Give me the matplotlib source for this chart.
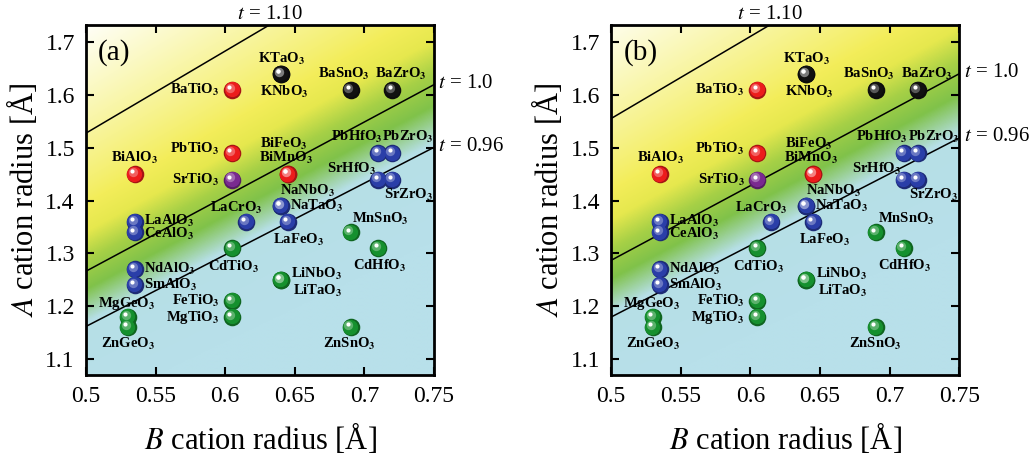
import numpy as np
import matplotlib.pyplot as plt
from matplotlib.colors import LinearSegmentedColormap, to_rgb
from matplotlib.transforms import ScaledTranslation

plt.rcParams['font.family'] = ['Liberation Serif', 'DejaVu Serif']
plt.rcParams['mathtext.fontset'] = 'stix'

# compounds: B-site radius, A-site radius, colour group
names = ['BaTiO3', 'KTaO3', 'KNbO3', 'BaSnO3', 'BaZrO3', 'PbTiO3', 'BiAlO3',
         'SrTiO3', 'BiFeO3', 'BiMnO3', 'PbHfO3', 'PbZrO3', 'SrHfO3', 'SrZrO3',
         'NaNbO3', 'NaTaO3', 'LaFeO3', 'LaCrO3', 'LaAlO3', 'CeAlO3', 'NdAlO3',
         'SmAlO3', 'CdTiO3', 'MnSnO3', 'CdHfO3', 'LiNbO3', 'LiTaO3', 'FeTiO3',
         'MgTiO3', 'MgGeO3', 'ZnGeO3', 'ZnSnO3']
r_B = [0.605, 0.64, 0.64, 0.69, 0.72, 0.605, 0.535,
       0.605, 0.645, 0.645, 0.71, 0.72, 0.71, 0.72,
       0.64, 0.64, 0.645, 0.615, 0.535, 0.535, 0.535,
       0.535, 0.605, 0.69, 0.71, 0.64, 0.64, 0.605,
       0.605, 0.53, 0.53, 0.69]
r_A = [1.61, 1.64, 1.64, 1.61, 1.61, 1.49, 1.45,
       1.44, 1.45, 1.45, 1.49, 1.49, 1.44, 1.44,
       1.39, 1.39, 1.36, 1.36, 1.36, 1.34, 1.27,
       1.24, 1.31, 1.34, 1.31, 1.25, 1.25, 1.21,
       1.18, 1.18, 1.16, 1.16]
groups = ['red', 'black', 'black', 'black', 'black', 'red', 'red',
          'purple', 'red', 'red', 'blue', 'blue', 'blue', 'blue',
          'blue', 'blue', 'blue', 'blue', 'blue', 'blue', 'blue',
          'blue', 'green', 'green', 'green', 'green', 'green', 'green',
          'green', 'green', 'green', 'green']

t_lines = [1.10, 1.0, 0.96]
r_O = {'(a)': 1.35, '(b)': 1.40}
x_ticks = [0.5, 0.55, 0.6, 0.65, 0.7, 0.75]
x_tick_labels = ['0.5', '0.55', '0.6', '0.65', '0.7', '0.75']
y_ticks = [1.1, 1.2, 1.3, 1.4, 1.5, 1.6, 1.7]

# label offsets in pixels (dx, dy, ha)
label_pos = {
    'BaTiO3': (-13, 0, 'right'), 'KTaO3': (0, 15, 'center'), 'KNbO3': (3, -18, 'center'),
    'BaSnO3': (-7, 16, 'center'), 'BaZrO3': (9, 16, 'center'), 'PbTiO3': (-13, 4, 'right'),
    'BiAlO3': (0, 16, 'center'), 'SrTiO3': (-13, 0, 'right'), 'BiFeO3': (-4, 30, 'center'),
    'BiMnO3': (-2, 16, 'center'), 'PbHfO3': (-22, 16, 'center'), 'PbZrO3': (16, 16, 'center'),
    'SrHfO3': (-27, 11, 'center'), 'SrZrO3': (16, -15, 'center'), 'NaNbO3': (27, 15, 'center'),
    'NaTaO3': (9, 0, 'left'), 'LaFeO3': (11, -18, 'center'), 'LaCrO3': (-10, 14, 'center'),
    'LaAlO3': (9, 1, 'left'), 'CeAlO3': (9, -2, 'left'), 'NdAlO3': (9, 0, 'left'),
    'SmAlO3': (9, 0, 'left'), 'CdTiO3': (1, -19, 'center'), 'MnSnO3': (30, 13, 'center'),
    'CdHfO3': (1, -18, 'center'), 'LiNbO3': (10, 6, 'left'), 'LiTaO3': (12, -11, 'left'),
    'FeTiO3': (-13, 0, 'right'), 'MgTiO3': (-13, -1, 'right'), 'MgGeO3': (-1, 13, 'center'),
    'ZnGeO3': (0, -17, 'center'), 'ZnSnO3': (-1, -17, 'center'),
}

ball_colors = {'red': '#ec1c1c', 'black': '#111111', 'purple': '#7a2a90',
               'blue': '#2a3ea8', 'green': '#15902e'}

bg_cmap = LinearSegmentedColormap.from_list('tol', [
    (0.0, '#b8e0ea'), (0.42, '#b6dfe6'), (0.58, '#80c24a'), (0.72, '#a6d046'),
    (0.86, '#e6e84e'), (1.0, '#f3ed5a'),
])


def tolerance_rgb(t):
    # t<=1.05 from cmap, above fade to white
    lo, hi = 0.90, 1.05
    rgb = bg_cmap(np.clip((t - lo) / (hi - lo), 0, 1))[..., :3]
    fade = np.clip((t - 1.05) / 0.13, 0, 1)[..., None] ** 0.9
    return rgb * (1 - fade) + np.array([1.0, 1.0, 0.98]) * fade


def fmt(name):
    return name[:-1] + r'$_\mathbf{3}$'


fig = plt.figure(figsize=(10.36, 4.61), dpi=100)
ax_a = fig.add_axes([0.083, 0.187, 0.336, 0.759])
ax_b = fig.add_axes([0.590, 0.187, 0.336, 0.759])

xlim = (0.5, 0.75)
ylim = (1.07, 1.733)

for ax, tag in [(ax_a, '(a)'), (ax_b, '(b)')]:
    rO = r_O[tag]
    gx = np.linspace(*xlim, 300)
    gy = np.linspace(*ylim, 300)
    X, Y = np.meshgrid(gx, gy)
    T = (Y + rO) / (np.sqrt(2) * (X + rO))
    ax.imshow(tolerance_rgb(T), extent=(*xlim, *ylim), origin='lower',
              aspect='auto', zorder=0, interpolation='bilinear')

    xx = np.linspace(*xlim, 50)
    for t in t_lines:
        yy = t * np.sqrt(2) * (xx + rO) - rO
        ax.plot(xx, yy, color='black', lw=1.1, zorder=1)
    # t labels
    t_top = 1.10
    x_top = (ylim[1] + rO) / (t_top * np.sqrt(2)) - rO
    ax.text(x_top, ylim[1] + 0.002, '$t$ = 1.10', ha='center', va='bottom', fontsize=15)
    for t in [1.0, 0.96]:
        y_end = t * np.sqrt(2) * (xlim[1] + rO) - rO
        label = '$t$ = 1.0' if t == 1.0 else '$t$ = 0.96'
        ax.text(xlim[1] + 0.003, y_end + 0.002, label, ha='left', va='center',
                fontsize=15, clip_on=False)

    # spheres
    for grp, col in ball_colors.items():
        xs = [b for b, g in zip(r_B, groups) if g == grp]
        ys = [a for a, g in zip(r_A, groups) if g == grp]
        base = np.array(to_rgb(col))
        ax.scatter(xs, ys, s=160, color=base * 0.7, zorder=3, linewidths=0)
        ax.scatter(xs, ys, s=120, color=base, zorder=3, linewidths=0,
                   transform=ax.transData + ScaledTranslation(-0.006, 0.006, fig.dpi_scale_trans))
        ax.scatter(xs, ys, s=45, color=base * 0.4 + 0.6, zorder=3, linewidths=0, alpha=0.5,
                   transform=ax.transData + ScaledTranslation(-0.022, 0.022, fig.dpi_scale_trans))
        ax.scatter(xs, ys, s=9, color='white', zorder=3, linewidths=0,
                   transform=ax.transData + ScaledTranslation(-0.028, 0.028, fig.dpi_scale_trans))

    for n, b, a in zip(names, r_B, r_A):
        dx, dy, ha = label_pos[n]
        ax.annotate(fmt(n), (b, a), xytext=(dx, dy), textcoords='offset pixels',
                    ha=ha, va='center', fontsize=10.5, fontweight='bold', zorder=4)

    ax.text(0.035, 0.92, tag, transform=ax.transAxes, fontsize=21, va='center', ha='left')

    ax.set_xlim(*xlim)
    ax.set_ylim(*ylim)
    ax.set_xticks(x_ticks)
    ax.set_xticklabels(x_tick_labels)
    ax.set_yticks(y_ticks)
    ax.tick_params(direction='in', length=6, width=1.5, labelsize=17,
                   top=True, right=True, pad=8)
    for sp in ax.spines.values():
        sp.set_linewidth(2)
    ax.set_xlabel(r'$\mathit{B}$ cation radius [Å]', fontsize=22, labelpad=10)
    ax.set_ylabel(r'$\mathit{A}$ cation radius [Å]', fontsize=22, labelpad=4)

fig.savefig('out.png', dpi=100)
